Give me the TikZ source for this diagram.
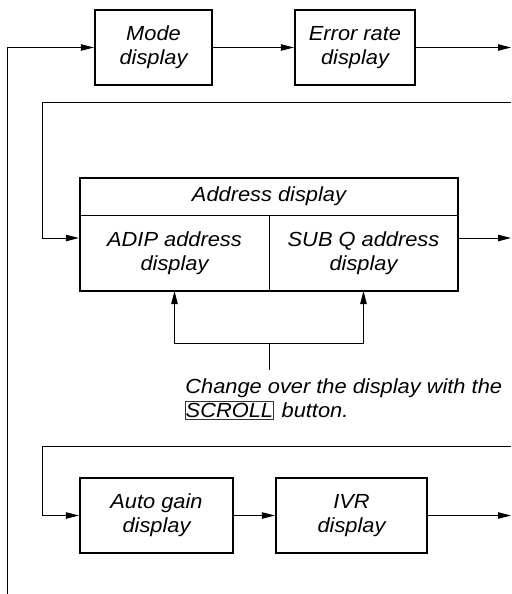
\documentclass[tikz,border=0pt]{standalone}
\usepackage{fontspec}
\setmainfont{Liberation Sans}[FakeStretch=1.07]
\usetikzlibrary{arrows.meta, positioning}

\begin{document}
\begin{tikzpicture}[x=0.5pt, y=-0.5pt,
  dispbox/.style={rectangle, draw=black, line width=1.1pt, fill=white,
    minimum height=37.5pt, align=center, inner sep=0pt,
    font=\fontsize{10.2}{12}\selectfont\itshape},
  cell/.style={rectangle, inner sep=0pt, outer sep=0pt, align=center,
    font=\fontsize{10.2}{12}\selectfont\itshape},
  note/.style={inner sep=0pt, font=\fontsize{10.2}{11.5}\selectfont\itshape},
  keybox/.style={rectangle, draw=black!80, line width=0.4pt, inner xsep=0.4pt,
    inner ysep=0.9pt, font=\fontsize{10.2}{11.5}\selectfont\itshape},
  arr/.style={-{Triangle[length=6.5pt, width=3.2pt]}, line width=0.5pt}
]
  \useasboundingbox (0,0) rectangle (511,594);

  % first row
  \node[dispbox, minimum width=58.5pt] (mode) at (153.5, 47.5) {Mode\\display};
  \node[dispbox, minimum width=60pt]   (err)  at (355, 47.5)   {Error rate\\display};

  % address display
  \node[draw=black, line width=1.1pt, minimum width=189pt, minimum height=56.5pt,
    inner sep=0pt] (addr) at (269, 234.5) {};
  \node[cell, minimum width=189pt, minimum height=18.5pt]  (hdr)  at (269, 196.5) {Address display};
  \node[cell, minimum width=94.5pt, minimum height=38pt]   (adip) at (174.5, 253) {ADIP address\\display};
  \node[cell, minimum width=94.5pt, minimum height=38pt]   (subq) at (363.5, 253) {SUB Q address\\display};
  \draw[line width=0.5pt] (hdr.south west) -- (hdr.south east);
  \draw[line width=0.5pt] (adip.north east) -- (adip.south east);

  % last row
  \node[dispbox, minimum width=76.5pt] (auto) at (156.5, 515.5) {Auto gain\\display};
  \node[dispbox, minimum width=75.5pt] (ivr)  at (351.5, 515.5) {IVR\\display};

  % note
  \node[note, anchor=base west] (chg) at (185, 393) {Change over the display with the};
  \node[keybox, anchor=base west] (scroll) at (184.5, 417) {SCROLL};
  \node[note, anchor=base west] (btn) at ([xshift=3.5pt]scroll.base east) {button.};

  \coordinate (bot) at (7, 594);
  \coordinate (r1)  at (511, 47.5);
  \coordinate (r2)  at (511, 102);
  \coordinate (k2)  at (42, 102);
  \coordinate (r2o) at (511, 238);
  \coordinate (r3)  at (511, 446);
  \coordinate (k3)  at (42, 446);
  \coordinate (r4)  at (511, 515.5);
  \coordinate (stem)  at (269, 370);
  \coordinate (split) at (269, 343);

  \draw[arr] (bot) |- (mode);
  \draw[arr] (mode) -- (err);
  \draw[arr] (err) -- (r1);

  \draw[arr] (r2) -- (k2) |- ([yshift=-1.75pt]addr.west);
  \draw[arr] ([yshift=-1.75pt]addr.east) -- (r2o);

  \draw[line width=0.5pt] (stem) -- (split);
  \draw[arr] (split) -| (adip.south);
  \draw[arr] (split) -| (subq.south);

  \draw[arr] (r3) -- (k3) |- (auto);
  \draw[arr] (auto) -- (ivr);
  \draw[arr] (ivr) -- (r4);
\end{tikzpicture}
\end{document}
